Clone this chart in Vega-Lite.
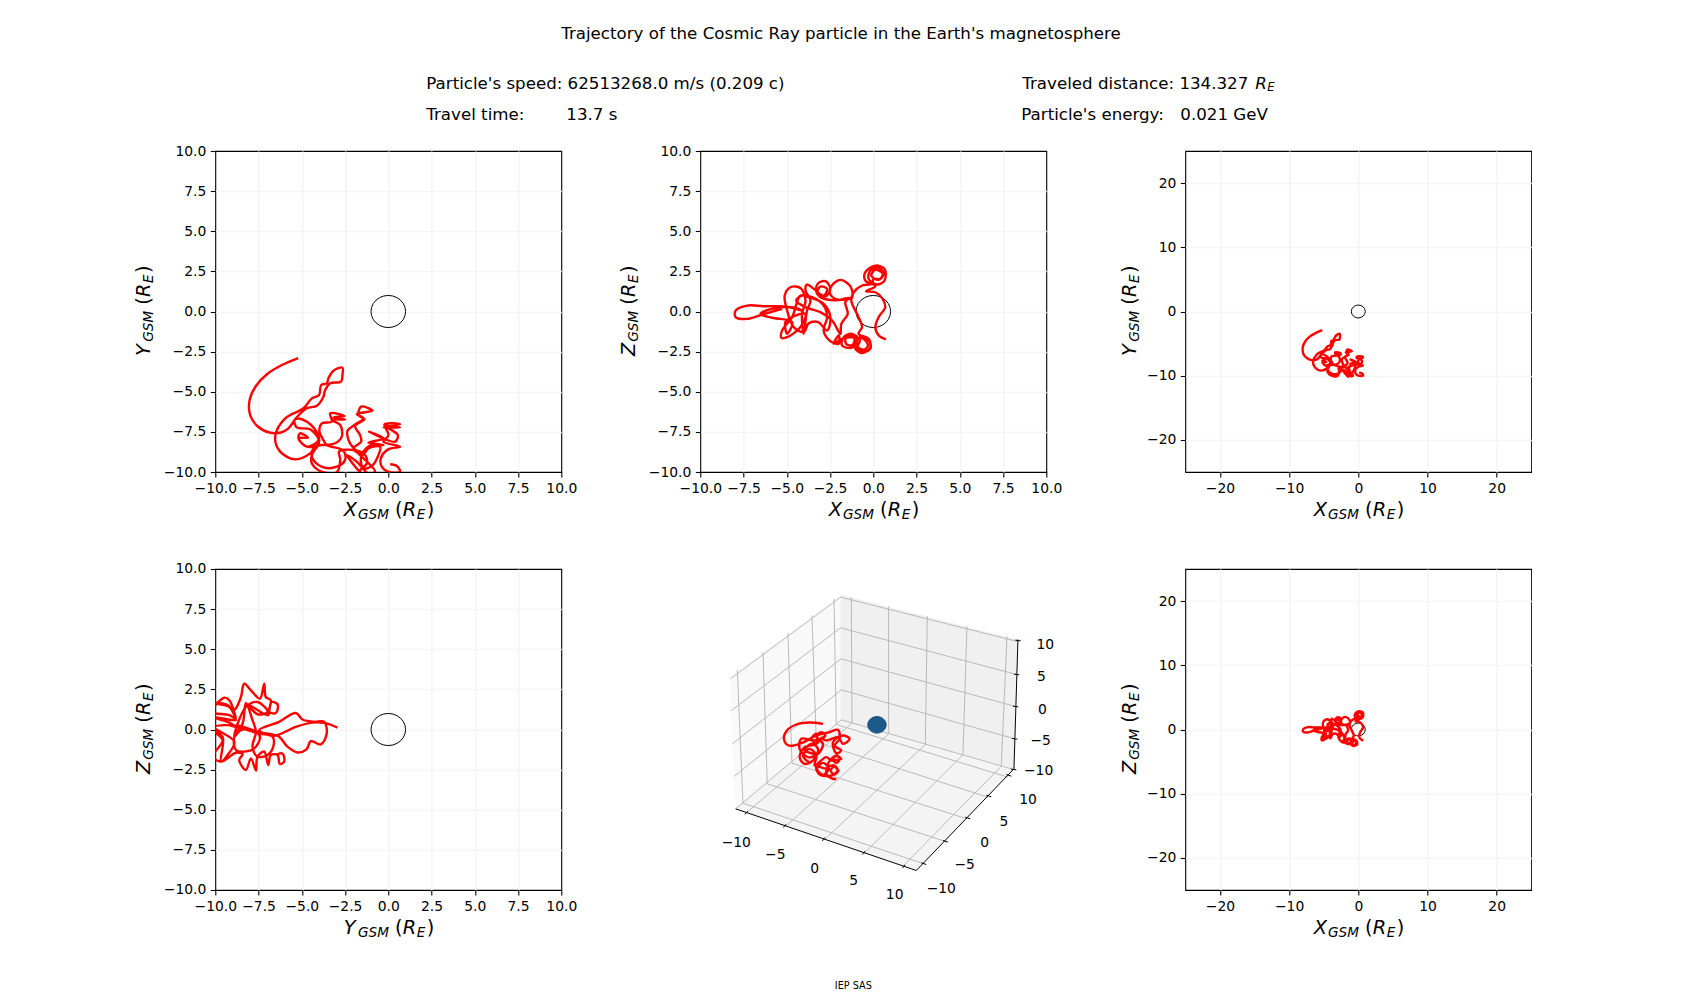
{"$schema":"https://vega.github.io/schema/vega-lite/v6.json","background":"#ffffff","padding":{"left":133.3,"top":26,"right":0,"bottom":0},"config":{"view":{"stroke":"#000000","strokeWidth":1.1},"text":{"font":"DejaVu Sans","align":"left","baseline":"alphabetic","color":"#000000"},"axis":{"grid":true,"gridColor":"#f5f5f5","gridWidth":1.5,"domain":false,"tickColor":"#000000","tickSize":5,"tickWidth":1.1,"labelFont":"DejaVu Sans","labelFontSize":13.9,"labelColor":"#000000","labelPadding":4.5,"labelOverlap":false,"labelFlush":false,"title":null}},
"datasets":{
"earth":[{"i":0,"a":1,"b":0},{"i":1,"a":0.966,"b":0.259},{"i":2,"a":0.866,"b":0.5},{"i":3,"a":0.707,"b":0.707},{"i":4,"a":0.5,"b":0.866},{"i":5,"a":0.259,"b":0.966},{"i":6,"a":0,"b":1},{"i":7,"a":-0.259,"b":0.966},{"i":8,"a":-0.5,"b":0.866},{"i":9,"a":-0.707,"b":0.707},{"i":10,"a":-0.866,"b":0.5},{"i":11,"a":-0.966,"b":0.259},{"i":12,"a":-1,"b":0},{"i":13,"a":-0.966,"b":-0.259},{"i":14,"a":-0.866,"b":-0.5},{"i":15,"a":-0.707,"b":-0.707},{"i":16,"a":-0.5,"b":-0.866},{"i":17,"a":-0.259,"b":-0.966},{"i":18,"a":0,"b":-1},{"i":19,"a":0.259,"b":-0.966},{"i":20,"a":0.5,"b":-0.866},{"i":21,"a":0.707,"b":-0.707},{"i":22,"a":0.866,"b":-0.5},{"i":23,"a":0.966,"b":-0.259},{"i":24,"a":1,"b":0}],
"xy":[{"i":0,"x":-5.21,"y":-2.9},{"i":1,"x":-6.12,"y":-3.32},{"i":2,"x":-6.98,"y":-3.88},{"i":3,"x":-7.65,"y":-4.64},{"i":4,"x":-8.02,"y":-5.53},{"i":5,"x":-7.98,"y":-6.47},{"i":6,"x":-7.56,"y":-7.15},{"i":7,"x":-6.88,"y":-7.54},{"i":8,"x":-6.21,"y":-7.54},{"i":9,"x":-5.77,"y":-7.28},{"i":10,"x":-5.29,"y":-6.59},{"i":11,"x":-4.71,"y":-6.03},{"i":12,"x":-4.13,"y":-5.87},{"i":13,"x":-3.75,"y":-5.31},{"i":14,"x":-3.65,"y":-4.89},{"i":15,"x":-3.36,"y":-4.47},{"i":16,"x":-2.73,"y":-4.37},{"i":17,"x":-2.65,"y":-3.95},{"i":18,"x":-2.65,"y":-3.5},{"i":19,"x":-3.17,"y":-3.69},{"i":20,"x":-3.46,"y":-4.16},{"i":21,"x":-3.55,"y":-4.47},{"i":22,"x":-3.88,"y":-4.58},{"i":23,"x":-4,"y":-5.2},{"i":24,"x":-4.42,"y":-5.41},{"i":25,"x":-4.9,"y":-6.03},{"i":26,"x":-5.96,"y":-6.66},{"i":27,"x":-6.54,"y":-7.8},{"i":28,"x":-6.25,"y":-8.73},{"i":29,"x":-5.39,"y":-9.21},{"i":30,"x":-4.52,"y":-8.84},{"i":31,"x":-4,"y":-8.11},{"i":32,"x":-4.33,"y":-7.22},{"i":33,"x":-5.1,"y":-6.68},{"i":34,"x":-5.42,"y":-6.76},{"i":35,"x":-5.29,"y":-7.22},{"i":36,"x":-4.52,"y":-7.34},{"i":37,"x":-4.04,"y":-8.01},{"i":38,"x":-4.71,"y":-8.42},{"i":39,"x":-5.19,"y":-7.9},{"i":40,"x":-5.1,"y":-7.59},{"i":41,"x":-4.65,"y":-7.86},{"i":42,"x":-5.19,"y":-7.9},{"i":43,"x":-4.71,"y":-8.42},{"i":44,"x":-3.84,"y":-8.32},{"i":45,"x":-3.07,"y":-8.21},{"i":46,"x":-2.69,"y":-7.8},{"i":47,"x":-2.78,"y":-7.07},{"i":48,"x":-3.27,"y":-6.76},{"i":49,"x":-2.5,"y":-6.72},{"i":50,"x":-3.17,"y":-6.59},{"i":51,"x":-2.53,"y":-6.51},{"i":52,"x":-3.36,"y":-6.35},{"i":53,"x":-3.27,"y":-6.86},{"i":54,"x":-3.84,"y":-6.97},{"i":55,"x":-3.98,"y":-7.49},{"i":56,"x":-3.75,"y":-8.01},{"i":57,"x":-3.55,"y":-8.32},{"i":58,"x":-2.59,"y":-8.67},{"i":59,"x":-2.5,"y":-9.25},{"i":60,"x":-2.98,"y":-9.67},{"i":61,"x":-3.75,"y":-9.71},{"i":62,"x":-4.33,"y":-9.25},{"i":63,"x":-4.42,"y":-8.73},{"i":64,"x":-4,"y":-8.26},{"i":65,"x":-4.42,"y":-8.94},{"i":66,"x":-4.42,"y":-9.46},{"i":67,"x":-3.94,"y":-9.94},{"i":68,"x":-2.98,"y":-10.02},{"i":69,"x":-2.78,"y":-9.25},{"i":70,"x":-2.84,"y":-8.73},{"i":71,"x":-2.01,"y":-8.63},{"i":72,"x":-1.34,"y":-8.94},{"i":73,"x":-1.24,"y":-9.46},{"i":74,"x":-1.63,"y":-9.92},{"i":75,"x":-1.49,"y":-10.19},{"i":76,"x":-2.4,"y":-8.94},{"i":77,"x":-1.82,"y":-9.36},{"i":78,"x":-1.15,"y":-10.08},{"i":79,"x":-0.76,"y":-9.98},{"i":80,"x":-1.82,"y":-8.73},{"i":81,"x":-2.26,"y":-8.11},{"i":82,"x":-2.36,"y":-7.43},{"i":83,"x":-1.96,"y":-7.07},{"i":84,"x":-1.44,"y":-6.66},{"i":85,"x":-1.82,"y":-6.39},{"i":86,"x":-0.92,"y":-6.18},{"i":87,"x":-1.57,"y":-5.93},{"i":88,"x":-1.72,"y":-6.45},{"i":89,"x":-1.38,"y":-6.72},{"i":90,"x":-1.92,"y":-7.13},{"i":91,"x":-1.63,"y":-7.7},{"i":92,"x":-1.57,"y":-8.11},{"i":93,"x":-2.01,"y":-8.53},{"i":94,"x":-1.49,"y":-8.94},{"i":95,"x":-1.15,"y":-8.53},{"i":96,"x":-0.47,"y":-8.42},{"i":97,"x":-0.61,"y":-9.05},{"i":98,"x":-0.95,"y":-9.63},{"i":99,"x":-1.44,"y":-9.77},{"i":100,"x":-1.57,"y":-9.05},{"i":101,"x":-1.11,"y":-8.38},{"i":102,"x":-0.28,"y":-8.32},{"i":103,"x":-1.15,"y":-8.17},{"i":104,"x":-0.28,"y":-7.9},{"i":105,"x":-1.11,"y":-7.49},{"i":106,"x":0.39,"y":-8.11},{"i":107,"x":0.55,"y":-7.7},{"i":108,"x":0.11,"y":-7.34},{"i":109,"x":-0.22,"y":-7.13},{"i":110,"x":0.68,"y":-7.22},{"i":111,"x":-0.28,"y":-7.22},{"i":112,"x":0.68,"y":-7.03},{"i":113,"x":-0.22,"y":-7.03},{"i":114,"x":0.01,"y":-7.7},{"i":115,"x":-0.28,"y":-8.11},{"i":116,"x":0.68,"y":-8.42},{"i":117,"x":-0.01,"y":-8.59},{"i":118,"x":-0.43,"y":-9.15},{"i":119,"x":-0.38,"y":-9.67},{"i":120,"x":-0.01,"y":-9.98},{"i":121,"x":0.68,"y":-9.98},{"i":122,"x":0.49,"y":-9.63},{"i":123,"x":0.11,"y":-9.52}],
"xz":[{"i":0,"x":0.73,"z":-1.74},{"i":1,"x":0.31,"z":-1.49},{"i":2,"x":0.12,"z":-0.97},{"i":3,"x":0.31,"z":-0.35},{"i":4,"x":0.69,"z":0.27},{"i":5,"x":0.54,"z":0.79},{"i":6,"x":0.12,"z":1.2},{"i":7,"x":-0.42,"z":1.26},{"i":8,"x":0.12,"z":1.58},{"i":9,"x":-0.46,"z":1.93},{"i":10,"x":-0.46,"z":2.45},{"i":11,"x":0.12,"z":2.86},{"i":12,"x":0.65,"z":2.65},{"i":13,"x":0.65,"z":1.93},{"i":14,"x":0.21,"z":1.68},{"i":15,"x":-0.27,"z":2.03},{"i":16,"x":-0.17,"z":2.55},{"i":17,"x":0.31,"z":2.72},{"i":18,"x":0.6,"z":2.34},{"i":19,"x":0.31,"z":1.97},{"i":20,"x":-0.12,"z":2.24},{"i":21,"x":0.12,"z":2.59},{"i":22,"x":0.54,"z":2.38},{"i":23,"x":0.4,"z":2.03},{"i":24,"x":0.02,"z":2.03},{"i":25,"x":-0.08,"z":1.72},{"i":26,"x":-0.65,"z":1.62},{"i":27,"x":-1.13,"z":1.2},{"i":28,"x":-1.27,"z":0.68},{"i":29,"x":-0.85,"z":-0.35},{"i":30,"x":-0.65,"z":-0.97},{"i":31,"x":-0.85,"z":-1.39},{"i":32,"x":-0.27,"z":-1.7},{"i":33,"x":-0.17,"z":-2.22},{"i":34,"x":-0.65,"z":-2.59},{"i":35,"x":-1.08,"z":-2.22},{"i":36,"x":-0.85,"z":-1.7},{"i":37,"x":-0.27,"z":-1.8},{"i":38,"x":-0.17,"z":-2.32},{"i":39,"x":-0.65,"z":-2.53},{"i":40,"x":-1.04,"z":-2.01},{"i":41,"x":-0.75,"z":-1.6},{"i":42,"x":-0.3,"z":-2.1},{"i":43,"x":-0.55,"z":-2.38},{"i":44,"x":-0.9,"z":-2.2},{"i":45,"x":-0.78,"z":-1.8},{"i":46,"x":-1.23,"z":-1.39},{"i":47,"x":-1.71,"z":-1.6},{"i":48,"x":-1.81,"z":-2.11},{"i":49,"x":-1.27,"z":-2.26},{"i":50,"x":-0.94,"z":-1.91},{"i":51,"x":-1.23,"z":-1.49},{"i":52,"x":-1.6,"z":-1.7},{"i":53,"x":-1.55,"z":-2.05},{"i":54,"x":-1.2,"z":-2.08},{"i":55,"x":-1.1,"z":-1.65},{"i":56,"x":-1.81,"z":-1.7},{"i":57,"x":-2.29,"z":-2.01},{"i":58,"x":-2,"z":-1.49},{"i":59,"x":-2,"z":-2.01},{"i":60,"x":-2.54,"z":-1.8},{"i":61,"x":-2.87,"z":-1.18},{"i":62,"x":-2.67,"z":-0.35},{"i":63,"x":-2.87,"z":0.37},{"i":64,"x":-3.54,"z":0.89},{"i":65,"x":-4.12,"z":0.99},{"i":66,"x":-4.46,"z":0.68},{"i":67,"x":-3.92,"z":0.27},{"i":68,"x":-3.06,"z":-0.04},{"i":69,"x":-2.38,"z":-0.56},{"i":70,"x":-1.9,"z":-1.39},{"i":71,"x":-1.85,"z":-0.77},{"i":72,"x":-1.48,"z":-0.15},{"i":73,"x":-1.62,"z":0.58},{"i":74,"x":-1.42,"z":0.85},{"i":75,"x":-2,"z":0.73},{"i":76,"x":-2.48,"z":1.06},{"i":77,"x":-2.42,"z":1.58},{"i":78,"x":-1.9,"z":1.97},{"i":79,"x":-1.33,"z":1.58},{"i":80,"x":-1.23,"z":0.89},{"i":81,"x":-1.81,"z":0.73},{"i":82,"x":-2.58,"z":0.73},{"i":83,"x":-3.06,"z":0.89},{"i":84,"x":-3.31,"z":1.31},{"i":85,"x":-3.19,"z":1.76},{"i":86,"x":-2.77,"z":1.89},{"i":87,"x":-2.48,"z":1.41},{"i":88,"x":-2.77,"z":0.93},{"i":89,"x":-3.25,"z":1.1},{"i":90,"x":-3.06,"z":1.55},{"i":91,"x":-2.67,"z":1.41},{"i":92,"x":-2.87,"z":0.99},{"i":93,"x":-3.44,"z":1.41},{"i":94,"x":-3.83,"z":1.68},{"i":95,"x":-3.92,"z":1.31},{"i":96,"x":-3.63,"z":0.68},{"i":97,"x":-3.83,"z":0.06},{"i":98,"x":-4.02,"z":-1.39},{"i":99,"x":-4.12,"z":-0.15},{"i":100,"x":-3.92,"z":0.68},{"i":101,"x":-4.21,"z":1.47},{"i":102,"x":-4.79,"z":1.51},{"i":103,"x":-5.12,"z":0.99},{"i":104,"x":-4.98,"z":0.06},{"i":105,"x":-4.6,"z":-0.97},{"i":106,"x":-4.02,"z":-1.28},{"i":107,"x":-3.73,"z":-0.73},{"i":108,"x":-3.19,"z":-0.66},{"i":109,"x":-2.67,"z":-1.18},{"i":110,"x":-2.48,"z":-0.35},{"i":111,"x":-2.87,"z":0.48},{"i":112,"x":-3.73,"z":0.89},{"i":113,"x":-4.21,"z":0.99},{"i":114,"x":-4.69,"z":-0.35},{"i":115,"x":-5.27,"z":-1.18},{"i":116,"x":-5.31,"z":-1.64},{"i":117,"x":-4.98,"z":-1.6},{"i":118,"x":-4.21,"z":-0.97},{"i":119,"x":-3.92,"z":-0.15},{"i":120,"x":-4.5,"z":-0.25},{"i":121,"x":-5.08,"z":-0.66},{"i":122,"x":-4.98,"z":-1.39},{"i":123,"x":-4.69,"z":-0.66},{"i":124,"x":-5.85,"z":-0.39},{"i":125,"x":-6.52,"z":-0.15},{"i":126,"x":-5.85,"z":0.17},{"i":127,"x":-4.69,"z":0.27},{"i":128,"x":-4.12,"z":0.06},{"i":129,"x":-5.08,"z":0.31},{"i":130,"x":-6.33,"z":0.33},{"i":131,"x":-7.29,"z":0.37},{"i":132,"x":-7.96,"z":0.06},{"i":133,"x":-7.96,"z":-0.35},{"i":134,"x":-7.29,"z":-0.46},{"i":135,"x":-6.42,"z":-0.19},{"i":136,"x":-5.27,"z":0.17}],
"yz":[{"i":0,"y":-2.94,"z":0.12},{"i":1,"y":-3.71,"z":0.41},{"i":2,"y":-4.38,"z":0.43},{"i":3,"y":-5.35,"z":0.17},{"i":4,"y":-6.6,"z":-0.39},{"i":5,"y":-7.46,"z":-0.04},{"i":6,"y":-6.31,"z":0.48},{"i":7,"y":-5.35,"z":1.03},{"i":8,"y":-4.96,"z":0.62},{"i":9,"y":-4.29,"z":0.48},{"i":10,"y":-3.71,"z":0.48},{"i":11,"y":-3.56,"z":-0.25},{"i":12,"y":-3.9,"z":-0.93},{"i":13,"y":-4.48,"z":-0.72},{"i":14,"y":-4.73,"z":-1.24},{"i":15,"y":-5.25,"z":-1.43},{"i":16,"y":-5.83,"z":-1.07},{"i":17,"y":-6.31,"z":-0.45},{"i":18,"y":-6.79,"z":-0.29},{"i":19,"y":-7.56,"z":-0.14},{"i":20,"y":-8.42,"z":0.17},{"i":21,"y":-9.23,"z":0.27},{"i":22,"y":-8.42,"z":0.06},{"i":23,"y":-7.46,"z":-0.25},{"i":24,"y":-6.69,"z":-0.45},{"i":25,"y":-6.65,"z":-1.07},{"i":26,"y":-6.98,"z":-1.59},{"i":27,"y":-7.56,"z":-1.69},{"i":28,"y":-7.85,"z":-1.07},{"i":29,"y":-7.65,"z":-0.14},{"i":30,"y":-7.85,"z":0.58},{"i":31,"y":-8.23,"z":1.65},{"i":32,"y":-8.42,"z":0.37},{"i":33,"y":-8.9,"z":-0.45},{"i":34,"y":-8.81,"z":-1.28},{"i":35,"y":-8.33,"z":-1.38},{"i":36,"y":-7.75,"z":-1.18},{"i":37,"y":-7.42,"z":-0.45},{"i":38,"y":-7.85,"z":-0.04},{"i":39,"y":-8.52,"z":-0.04},{"i":40,"y":-8.9,"z":-0.45},{"i":41,"y":-8.23,"z":1.4},{"i":42,"y":-7.56,"z":1.71},{"i":43,"y":-6.98,"z":1.1},{"i":44,"y":-7.56,"z":0.95},{"i":45,"y":-8.04,"z":1.51},{"i":46,"y":-6.94,"z":0.89},{"i":47,"y":-6.88,"z":1.2},{"i":48,"y":-6.75,"z":1.71},{"i":49,"y":-6.4,"z":1.57},{"i":50,"y":-6.5,"z":1.03},{"i":51,"y":-6.88,"z":1.1},{"i":52,"y":-6.79,"z":1.82},{"i":53,"y":-7.08,"z":2.02},{"i":54,"y":-7.17,"z":2.85},{"i":55,"y":-7.42,"z":1.92},{"i":56,"y":-7.85,"z":2.33},{"i":57,"y":-8.33,"z":2.85},{"i":58,"y":-8.52,"z":2.02},{"i":59,"y":-8.9,"z":1.24},{"i":60,"y":-9.38,"z":1.57},{"i":61,"y":-10.2,"z":1.65},{"i":62,"y":-9.19,"z":1.4},{"i":63,"y":-8.81,"z":0.68},{"i":64,"y":-9.19,"z":1.82},{"i":65,"y":-9.48,"z":1.98},{"i":66,"y":-10.2,"z":1.1},{"i":67,"y":-9.19,"z":0.89},{"i":68,"y":-8.81,"z":0.58},{"i":69,"y":-10.2,"z":0.79},{"i":70,"y":-9,"z":0.33},{"i":71,"y":-10.1,"z":0.17},{"i":72,"y":-8.9,"z":-0.76},{"i":73,"y":-9.29,"z":-1.59},{"i":74,"y":-9.67,"z":-2},{"i":75,"y":-9.58,"z":-0.45},{"i":76,"y":-10.2,"z":-0.04},{"i":77,"y":-9.58,"z":-0.66},{"i":78,"y":-10.15,"z":-1.69},{"i":79,"y":-9.67,"z":-2},{"i":80,"y":-8.81,"z":-1.45},{"i":81,"y":-8.42,"z":-1.53},{"i":82,"y":-8.62,"z":-1.9},{"i":83,"y":-8.23,"z":-2.52},{"i":84,"y":-7.94,"z":-1.8},{"i":85,"y":-7.65,"z":-2.56},{"i":86,"y":-7.56,"z":-1.69},{"i":87,"y":-7.17,"z":-1.38},{"i":88,"y":-6.94,"z":-2.21},{"i":89,"y":-6.79,"z":-1.59},{"i":90,"y":-6.4,"z":-1.59},{"i":91,"y":-6.27,"z":-2.15},{"i":92,"y":-6.02,"z":-2},{"i":93,"y":-6.12,"z":-1.49},{"i":94,"y":-6.5,"z":-1.59}],
"path3d":[{"i":0,"u":365,"v":460},{"i":1,"u":325,"v":456},{"i":2,"u":285,"v":462},{"i":3,"u":255,"v":482},{"i":4,"u":248,"v":505},{"i":5,"u":262,"v":525},{"i":6,"u":300,"v":518},{"i":7,"u":335,"v":500},{"i":8,"u":360,"v":485},{"i":9,"u":372,"v":495},{"i":10,"u":340,"v":510},{"i":11,"u":300,"v":505},{"i":12,"u":295,"v":535},{"i":13,"u":320,"v":560},{"i":14,"u":350,"v":550},{"i":15,"u":365,"v":520},{"i":16,"u":345,"v":498},{"i":17,"u":385,"v":485},{"i":18,"u":410,"v":478},{"i":19,"u":415,"v":505},{"i":20,"u":400,"v":525},{"i":21,"u":420,"v":540},{"i":22,"u":405,"v":548},{"i":23,"u":395,"v":515},{"i":24,"u":425,"v":495},{"i":25,"u":445,"v":505},{"i":26,"u":425,"v":520},{"i":27,"u":410,"v":500},{"i":28,"u":375,"v":510},{"i":29,"u":360,"v":505},{"i":30,"u":345,"v":520},{"i":31,"u":330,"v":505},{"i":32,"u":345,"v":490},{"i":33,"u":345,"v":520},{"i":34,"u":310,"v":530},{"i":35,"u":295,"v":560},{"i":36,"u":310,"v":580},{"i":37,"u":335,"v":570},{"i":38,"u":350,"v":535},{"i":39,"u":330,"v":520},{"i":40,"u":310,"v":540},{"i":41,"u":345,"v":555},{"i":42,"u":325,"v":575},{"i":43,"u":305,"v":555},{"i":44,"u":325,"v":535},{"i":45,"u":345,"v":555},{"i":46,"u":340,"v":585},{"i":47,"u":375,"v":560},{"i":48,"u":390,"v":570},{"i":49,"u":415,"v":567},{"i":50,"u":405,"v":577},{"i":51,"u":395,"v":567},{"i":52,"u":405,"v":557},{"i":53,"u":420,"v":565},{"i":54,"u":405,"v":555},{"i":55,"u":380,"v":580},{"i":56,"u":383,"v":595},{"i":57,"u":365,"v":613},{"i":58,"u":347,"v":595},{"i":59,"u":365,"v":577},{"i":60,"u":383,"v":595},{"i":61,"u":345,"v":590},{"i":62,"u":355,"v":612},{"i":63,"u":390,"v":615},{"i":64,"u":412,"v":600},{"i":65,"u":400,"v":612},{"i":66,"u":388,"v":600},{"i":67,"u":400,"v":588},{"i":68,"u":410,"v":600},{"i":69,"u":400,"v":585},{"i":70,"u":380,"v":590},{"i":71,"u":375,"v":610},{"i":72,"u":395,"v":625},{"i":73,"u":405,"v":625}],
"grid3d":[{"g":"x1","k":0,"u":135,"v":727},{"g":"x1","k":1,"u":452,"v":458},{"g":"x1","k":2,"u":450,"v":80},{"g":"x2","k":0,"u":250,"v":770},{"g":"x2","k":1,"u":562,"v":490},{"g":"x2","k":2,"u":562,"v":108},{"g":"x3","k":0,"u":367,"v":810},{"g":"x3","k":1,"u":672,"v":522},{"g":"x3","k":2,"u":678,"v":137},{"g":"x4","k":0,"u":487,"v":850},{"g":"x4","k":1,"u":785,"v":553},{"g":"x4","k":2,"u":797,"v":168},{"g":"x5","k":0,"u":607,"v":885},{"g":"x5","k":1,"u":900,"v":587},{"g":"x5","k":2,"u":917,"v":198},{"g":"y1","k":0,"u":665,"v":879},{"g":"y1","k":1,"u":125,"v":698},{"g":"y1","k":2,"u":108,"v":298},{"g":"y2","k":0,"u":730,"v":812},{"g":"y2","k":1,"u":198,"v":640},{"g":"y2","k":2,"u":185,"v":245},{"g":"y3","k":0,"u":797,"v":745},{"g":"y3","k":1,"u":272,"v":578},{"g":"y3","k":2,"u":260,"v":188},{"g":"y4","k":0,"u":860,"v":680},{"g":"y4","k":1,"u":345,"v":515},{"g":"y4","k":2,"u":332,"v":135},{"g":"y5","k":0,"u":920,"v":620},{"g":"y5","k":1,"u":405,"v":462},{"g":"y5","k":2,"u":398,"v":85},{"g":"z1","k":0,"u":87,"v":325},{"g":"z1","k":1,"u":418,"v":80},{"g":"z1","k":2,"u":948,"v":213},{"g":"z2","k":0,"u":90,"v":420},{"g":"z2","k":1,"u":418,"v":172},{"g":"z2","k":2,"u":946,"v":312},{"g":"z3","k":0,"u":93,"v":520},{"g":"z3","k":1,"u":419,"v":265},{"g":"z3","k":2,"u":943,"v":408},{"g":"z4","k":0,"u":98,"v":618},{"g":"z4","k":1,"u":420,"v":358},{"g":"z4","k":2,"u":940,"v":505},{"g":"z5","k":0,"u":103,"v":715},{"g":"z5","k":1,"u":420,"v":448},{"g":"z5","k":2,"u":937,"v":597}],
"axes3d":[{"g":"ax","u":103,"v":715},{"g":"ax","u":645,"v":900},{"g":"ax","u":938,"v":595},{"g":"ax","u":950,"v":207},{"g":"tx1","u":139,"v":722},{"g":"tx1","u":131,"v":732},{"g":"tx2","u":254,"v":761},{"g":"tx2","u":246,"v":771},{"g":"tx3","u":371,"v":801},{"g":"tx3","u":363,"v":811},{"g":"tx4","u":491,"v":842},{"g":"tx4","u":483,"v":852},{"g":"tx5","u":611,"v":883},{"g":"tx5","u":603,"v":893},{"g":"ty1","u":660,"v":877},{"g":"ty1","u":675,"v":882},{"g":"ty2","u":725,"v":810},{"g":"ty2","u":740,"v":815},{"g":"ty3","u":792,"v":740},{"g":"ty3","u":807,"v":745},{"g":"ty4","u":855,"v":674},{"g":"ty4","u":870,"v":679},{"g":"ty5","u":915,"v":612},{"g":"ty5","u":930,"v":617},{"g":"tz1","u":942,"v":209},{"g":"tz1","u":958,"v":211},{"g":"tz2","u":938,"v":311},{"g":"tz2","u":954,"v":313},{"g":"tz3","u":935,"v":407},{"g":"tz3","u":951,"v":409},{"g":"tz4","u":932,"v":504},{"g":"tz4","u":948,"v":506},{"g":"tz5","u":929,"v":596},{"g":"tz5","u":945,"v":598}],
"ticks3d":[{"t":"−10","u":105,"v":817},{"t":"−5","u":222,"v":855},{"t":"0","u":340,"v":895},{"t":"5","u":457,"v":932},{"t":"10","u":580,"v":975},{"t":"−10","u":720,"v":955},{"t":"−5","u":790,"v":883},{"t":"0","u":850,"v":817},{"t":"5","u":908,"v":755},{"t":"10","u":980,"v":690},{"t":"10","u":1032,"v":223},{"t":"5","u":1020,"v":320},{"t":"0","u":1023,"v":418},{"t":"−5","u":1018,"v":512},{"t":"−10","u":1012,"v":603}],
"figtext":[{"t":"Particle's speed: 62513268.0 m/s (0.209 c)","u":-825,"v":-1459.5},{"t":"Travel time:","u":-825,"v":-1368},{"t":"13.7 s","u":-405,"v":-1368},{"t":"Traveled distance: 134.327","u":963,"v":-1459.5},{"t":"Particle's energy:","u":960,"v":-1368},{"t":"0.021 GeV","u":1437,"v":-1368}]
},
"columns":3,"bounds":"flush","spacing":{"row":97,"column":139},
"concat":[
{"width":346,"height":321,"data":{"values":[{}]},"layer":[
{"data":{"name":"earth"},"mark":{"type":"line","color":"#000000","strokeWidth":1},"encoding":{"x":{"field":"a","type":"quantitative","scale":{"domain":[-10,10],"nice":false},"axis":{"values":[-10,-7.5,-5,-2.5,0,2.5,5,7.5,10],"format":".1f","gridOpacity":{"condition":{"test":"abs(datum.value)==10","value":0},"value":1}}},"y":{"field":"b","type":"quantitative","scale":{"domain":[-10,10],"nice":false},"axis":{"values":[-10,-7.5,-5,-2.5,0,2.5,5,7.5,10],"format":".1f","gridOpacity":{"condition":{"test":"abs(datum.value)==10","value":0},"value":1}}},"order":{"field":"i"}}},
{"data":{"name":"xy"},"mark":{"type":"line","color":"#ff0000","strokeWidth":2.4,"clip":true,"interpolate":"catmull-rom"},"encoding":{"x":{"field":"x","type":"quantitative"},"y":{"field":"y","type":"quantitative"},"order":{"field":"i"}}},
{"mark":{"type":"text","text":"X","fontStyle":"italic","fontSize":19.4,"dx":-44.5,"dy":44.5},"encoding":{"x":{"datum":0},"y":{"datum":-10}}},
{"mark":{"type":"text","text":"GSM","fontStyle":"italic","fontSize":13.6,"dx":-30.2,"dy":47.5},"encoding":{"x":{"datum":0},"y":{"datum":-10}}},
{"mark":{"type":"text","text":"(","fontSize":19.4,"dx":6.8,"dy":44.5},"encoding":{"x":{"datum":0},"y":{"datum":-10}}},
{"mark":{"type":"text","text":"R","fontStyle":"italic","fontSize":19.4,"dx":14.5,"dy":44.5},"encoding":{"x":{"datum":0},"y":{"datum":-10}}},
{"mark":{"type":"text","text":"E","fontStyle":"italic","fontSize":13.6,"dx":28.5,"dy":47.5},"encoding":{"x":{"datum":0},"y":{"datum":-10}}},
{"mark":{"type":"text","text":")","fontSize":19.4,"dx":38.5,"dy":44.5},"encoding":{"x":{"datum":0},"y":{"datum":-10}}},
{"mark":{"type":"text","angle":270,"text":"Y","fontStyle":"italic","fontSize":19.4,"dx":-44.5,"dy":-65},"encoding":{"x":{"datum":-10},"y":{"datum":0}}},
{"mark":{"type":"text","angle":270,"text":"GSM","fontStyle":"italic","fontSize":13.6,"dx":-30.2,"dy":-62},"encoding":{"x":{"datum":-10},"y":{"datum":0}}},
{"mark":{"type":"text","angle":270,"text":"(","fontSize":19.4,"dx":6.8,"dy":-65},"encoding":{"x":{"datum":-10},"y":{"datum":0}}},
{"mark":{"type":"text","angle":270,"text":"R","fontStyle":"italic","fontSize":19.4,"dx":14.5,"dy":-65},"encoding":{"x":{"datum":-10},"y":{"datum":0}}},
{"mark":{"type":"text","angle":270,"text":"E","fontStyle":"italic","fontSize":13.6,"dx":28.5,"dy":-62},"encoding":{"x":{"datum":-10},"y":{"datum":0}}},
{"mark":{"type":"text","angle":270,"text":")","fontSize":19.4,"dx":38.5,"dy":-65},"encoding":{"x":{"datum":-10},"y":{"datum":0}}}
]},
{"width":346,"height":321,"data":{"values":[{}]},"layer":[
{"data":{"name":"earth"},"mark":{"type":"line","color":"#000000","strokeWidth":1},"encoding":{"x":{"field":"a","type":"quantitative","scale":{"domain":[-10,10],"nice":false},"axis":{"values":[-10,-7.5,-5,-2.5,0,2.5,5,7.5,10],"format":".1f","gridOpacity":{"condition":{"test":"abs(datum.value)==10","value":0},"value":1}}},"y":{"field":"b","type":"quantitative","scale":{"domain":[-10,10],"nice":false},"axis":{"values":[-10,-7.5,-5,-2.5,0,2.5,5,7.5,10],"format":".1f","gridOpacity":{"condition":{"test":"abs(datum.value)==10","value":0},"value":1}}},"order":{"field":"i"}}},
{"data":{"name":"xz"},"mark":{"type":"line","color":"#ff0000","strokeWidth":2.4,"clip":true,"interpolate":"catmull-rom"},"encoding":{"x":{"field":"x","type":"quantitative"},"y":{"field":"z","type":"quantitative"},"order":{"field":"i"}}},
{"mark":{"type":"text","text":"X","fontStyle":"italic","fontSize":19.4,"dx":-44.5,"dy":44.5},"encoding":{"x":{"datum":0},"y":{"datum":-10}}},
{"mark":{"type":"text","text":"GSM","fontStyle":"italic","fontSize":13.6,"dx":-30.2,"dy":47.5},"encoding":{"x":{"datum":0},"y":{"datum":-10}}},
{"mark":{"type":"text","text":"(","fontSize":19.4,"dx":6.8,"dy":44.5},"encoding":{"x":{"datum":0},"y":{"datum":-10}}},
{"mark":{"type":"text","text":"R","fontStyle":"italic","fontSize":19.4,"dx":14.5,"dy":44.5},"encoding":{"x":{"datum":0},"y":{"datum":-10}}},
{"mark":{"type":"text","text":"E","fontStyle":"italic","fontSize":13.6,"dx":28.5,"dy":47.5},"encoding":{"x":{"datum":0},"y":{"datum":-10}}},
{"mark":{"type":"text","text":")","fontSize":19.4,"dx":38.5,"dy":44.5},"encoding":{"x":{"datum":0},"y":{"datum":-10}}},
{"mark":{"type":"text","angle":270,"text":"Z","fontStyle":"italic","fontSize":19.4,"dx":-44.5,"dy":-65},"encoding":{"x":{"datum":-10},"y":{"datum":0}}},
{"mark":{"type":"text","angle":270,"text":"GSM","fontStyle":"italic","fontSize":13.6,"dx":-30.2,"dy":-62},"encoding":{"x":{"datum":-10},"y":{"datum":0}}},
{"mark":{"type":"text","angle":270,"text":"(","fontSize":19.4,"dx":6.8,"dy":-65},"encoding":{"x":{"datum":-10},"y":{"datum":0}}},
{"mark":{"type":"text","angle":270,"text":"R","fontStyle":"italic","fontSize":19.4,"dx":14.5,"dy":-65},"encoding":{"x":{"datum":-10},"y":{"datum":0}}},
{"mark":{"type":"text","angle":270,"text":"E","fontStyle":"italic","fontSize":13.6,"dx":28.5,"dy":-62},"encoding":{"x":{"datum":-10},"y":{"datum":0}}},
{"mark":{"type":"text","angle":270,"text":")","fontSize":19.4,"dx":38.5,"dy":-65},"encoding":{"x":{"datum":-10},"y":{"datum":0}}}
]},
{"width":346,"height":321,"data":{"values":[{}]},"layer":[
{"data":{"name":"earth"},"mark":{"type":"line","color":"#000000","strokeWidth":1},"encoding":{"x":{"field":"a","type":"quantitative","scale":{"domain":[-25,25],"nice":false},"axis":{"values":[-20,-10,0,10,20],"format":"d"}},"y":{"field":"b","type":"quantitative","scale":{"domain":[-25,25],"nice":false},"axis":{"values":[-20,-10,0,10,20],"format":"d"}},"order":{"field":"i"}}},
{"data":{"name":"xy"},"mark":{"type":"line","color":"#ff0000","strokeWidth":2.4,"clip":true,"interpolate":"catmull-rom"},"encoding":{"x":{"field":"x","type":"quantitative"},"y":{"field":"y","type":"quantitative"},"order":{"field":"i"}}},
{"mark":{"type":"text","text":"X","fontStyle":"italic","fontSize":19.4,"dx":-44.5,"dy":44.5},"encoding":{"x":{"datum":0},"y":{"datum":-25}}},
{"mark":{"type":"text","text":"GSM","fontStyle":"italic","fontSize":13.6,"dx":-30.2,"dy":47.5},"encoding":{"x":{"datum":0},"y":{"datum":-25}}},
{"mark":{"type":"text","text":"(","fontSize":19.4,"dx":6.8,"dy":44.5},"encoding":{"x":{"datum":0},"y":{"datum":-25}}},
{"mark":{"type":"text","text":"R","fontStyle":"italic","fontSize":19.4,"dx":14.5,"dy":44.5},"encoding":{"x":{"datum":0},"y":{"datum":-25}}},
{"mark":{"type":"text","text":"E","fontStyle":"italic","fontSize":13.6,"dx":28.5,"dy":47.5},"encoding":{"x":{"datum":0},"y":{"datum":-25}}},
{"mark":{"type":"text","text":")","fontSize":19.4,"dx":38.5,"dy":44.5},"encoding":{"x":{"datum":0},"y":{"datum":-25}}},
{"mark":{"type":"text","angle":270,"text":"Y","fontStyle":"italic","fontSize":19.4,"dx":-44.5,"dy":-49},"encoding":{"x":{"datum":-25},"y":{"datum":0}}},
{"mark":{"type":"text","angle":270,"text":"GSM","fontStyle":"italic","fontSize":13.6,"dx":-30.2,"dy":-46},"encoding":{"x":{"datum":-25},"y":{"datum":0}}},
{"mark":{"type":"text","angle":270,"text":"(","fontSize":19.4,"dx":6.8,"dy":-49},"encoding":{"x":{"datum":-25},"y":{"datum":0}}},
{"mark":{"type":"text","angle":270,"text":"R","fontStyle":"italic","fontSize":19.4,"dx":14.5,"dy":-49},"encoding":{"x":{"datum":-25},"y":{"datum":0}}},
{"mark":{"type":"text","angle":270,"text":"E","fontStyle":"italic","fontSize":13.6,"dx":28.5,"dy":-46},"encoding":{"x":{"datum":-25},"y":{"datum":0}}},
{"mark":{"type":"text","angle":270,"text":")","fontSize":19.4,"dx":38.5,"dy":-49},"encoding":{"x":{"datum":-25},"y":{"datum":0}}}
]},
{"width":346,"height":321,"data":{"values":[{}]},"layer":[
{"data":{"name":"earth"},"mark":{"type":"line","color":"#000000","strokeWidth":1},"encoding":{"x":{"field":"a","type":"quantitative","scale":{"domain":[-10,10],"nice":false},"axis":{"values":[-10,-7.5,-5,-2.5,0,2.5,5,7.5,10],"format":".1f","gridOpacity":{"condition":{"test":"abs(datum.value)==10","value":0},"value":1}}},"y":{"field":"b","type":"quantitative","scale":{"domain":[-10,10],"nice":false},"axis":{"values":[-10,-7.5,-5,-2.5,0,2.5,5,7.5,10],"format":".1f","gridOpacity":{"condition":{"test":"abs(datum.value)==10","value":0},"value":1}}},"order":{"field":"i"}}},
{"data":{"name":"yz"},"mark":{"type":"line","color":"#ff0000","strokeWidth":2.4,"clip":true,"interpolate":"catmull-rom"},"encoding":{"x":{"field":"y","type":"quantitative"},"y":{"field":"z","type":"quantitative"},"order":{"field":"i"}}},
{"mark":{"type":"text","text":"Y","fontStyle":"italic","fontSize":19.4,"dx":-44.5,"dy":44.5},"encoding":{"x":{"datum":0},"y":{"datum":-10}}},
{"mark":{"type":"text","text":"GSM","fontStyle":"italic","fontSize":13.6,"dx":-30.2,"dy":47.5},"encoding":{"x":{"datum":0},"y":{"datum":-10}}},
{"mark":{"type":"text","text":"(","fontSize":19.4,"dx":6.8,"dy":44.5},"encoding":{"x":{"datum":0},"y":{"datum":-10}}},
{"mark":{"type":"text","text":"R","fontStyle":"italic","fontSize":19.4,"dx":14.5,"dy":44.5},"encoding":{"x":{"datum":0},"y":{"datum":-10}}},
{"mark":{"type":"text","text":"E","fontStyle":"italic","fontSize":13.6,"dx":28.5,"dy":47.5},"encoding":{"x":{"datum":0},"y":{"datum":-10}}},
{"mark":{"type":"text","text":")","fontSize":19.4,"dx":38.5,"dy":44.5},"encoding":{"x":{"datum":0},"y":{"datum":-10}}},
{"mark":{"type":"text","angle":270,"text":"Z","fontStyle":"italic","fontSize":19.4,"dx":-44.5,"dy":-65},"encoding":{"x":{"datum":-10},"y":{"datum":0}}},
{"mark":{"type":"text","angle":270,"text":"GSM","fontStyle":"italic","fontSize":13.6,"dx":-30.2,"dy":-62},"encoding":{"x":{"datum":-10},"y":{"datum":0}}},
{"mark":{"type":"text","angle":270,"text":"(","fontSize":19.4,"dx":6.8,"dy":-65},"encoding":{"x":{"datum":-10},"y":{"datum":0}}},
{"mark":{"type":"text","angle":270,"text":"R","fontStyle":"italic","fontSize":19.4,"dx":14.5,"dy":-65},"encoding":{"x":{"datum":-10},"y":{"datum":0}}},
{"mark":{"type":"text","angle":270,"text":"E","fontStyle":"italic","fontSize":13.6,"dx":28.5,"dy":-62},"encoding":{"x":{"datum":-10},"y":{"datum":0}}},
{"mark":{"type":"text","angle":270,"text":")","fontSize":19.4,"dx":38.5,"dy":-65},"encoding":{"x":{"datum":-10},"y":{"datum":0}}}
]},
{"width":346,"height":321,"view":{"stroke":null},"layer":[
{"data":{"values":[{"u":85,"v":320,"w":320},{"u":103,"v":306.6,"w":715},{"u":418,"v":72,"w":450},{"u":420,"v":72,"w":448}]},"mark":{"type":"area","color":"#f9f9f9"},"encoding":{"x":{"field":"u","type":"quantitative","scale":{"domain":[-3,1035],"nice":false,"zero":false},"axis":null},"y":{"field":"v","type":"quantitative","scale":{"domain":[958.5,-4.5],"nice":false,"zero":false},"axis":null},"y2":{"field":"w"}}},
{"data":{"values":[{"u":103,"v":715,"w":715},{"u":420,"v":448,"w":823},{"u":645,"v":512,"w":900},{"u":938,"v":595,"w":595}]},"mark":{"type":"area","color":"#f4f4f4"},"encoding":{"x":{"field":"u","type":"quantitative"},"y":{"field":"v","type":"quantitative"},"y2":{"field":"w"}}},
{"data":{"values":[{"u":418,"v":72,"w":448},{"u":938,"v":204,"w":595},{"u":950,"v":207,"w":207}]},"mark":{"type":"area","color":"#f0f0f0"},"encoding":{"x":{"field":"u","type":"quantitative"},"y":{"field":"v","type":"quantitative"},"y2":{"field":"w"}}},
{"data":{"name":"grid3d"},"mark":{"type":"line","color":"#b9b9b9","strokeWidth":1},"encoding":{"x":{"field":"u","type":"quantitative"},"y":{"field":"v","type":"quantitative"},"detail":{"field":"g"},"order":{"field":"k"}}},
{"data":{"name":"axes3d"},"mark":{"type":"line","color":"#000000","strokeWidth":1},"encoding":{"x":{"field":"u","type":"quantitative"},"y":{"field":"v","type":"quantitative"},"detail":{"field":"g"},"order":{"field":"u"}}},
{"data":{"values":[{"u":527,"v":463}]},"mark":{"type":"point","filled":true,"shape":"M-1,0A1,.9,0,1,1,1,0A1,.9,0,1,1,-1,0Z","size":336,"fill":"#1c5a8a","stroke":"#144a75","strokeWidth":1,"opacity":1},"encoding":{"x":{"field":"u","type":"quantitative"},"y":{"field":"v","type":"quantitative"}}},
{"data":{"name":"path3d"},"mark":{"type":"line","color":"#ff0000","strokeWidth":2.4,"interpolate":"catmull-rom"},"encoding":{"x":{"field":"u","type":"quantitative"},"y":{"field":"v","type":"quantitative"},"order":{"field":"i"}}},
{"data":{"name":"ticks3d"},"mark":{"type":"text","fontSize":13.9,"align":"center","baseline":"middle"},"encoding":{"x":{"field":"u","type":"quantitative"},"y":{"field":"v","type":"quantitative"},"text":{"field":"t"}}},
{"data":{"name":"figtext"},"mark":{"type":"text","fontSize":16.67,"baseline":"middle"},"encoding":{"x":{"field":"u","type":"quantitative"},"y":{"field":"v","type":"quantitative"},"text":{"field":"t"}}},
{"data":{"values":[{"t":"Trajectory of the Cosmic Ray particle in the Earth's magnetosphere","u":419,"v":-1609}]},"mark":{"type":"text","fontSize":16.67,"align":"center","baseline":"middle"},"encoding":{"x":{"field":"u","type":"quantitative"},"y":{"field":"v","type":"quantitative"},"text":{"field":"t"}}},
{"data":{"values":[{"t":"R","u":1662,"v":-1459.5}]},"mark":{"type":"text","fontSize":16.67,"fontStyle":"italic","baseline":"middle"},"encoding":{"x":{"field":"u","type":"quantitative"},"y":{"field":"v","type":"quantitative"},"text":{"field":"t"}}},
{"data":{"values":[{"t":"E","u":1698,"v":-1450}]},"mark":{"type":"text","fontSize":11.7,"fontStyle":"italic","baseline":"middle"},"encoding":{"x":{"field":"u","type":"quantitative"},"y":{"field":"v","type":"quantitative"},"text":{"field":"t"}}},
{"data":{"values":[{"t":"IEP SAS","u":456,"v":1248}]},"mark":{"type":"text","fontSize":9.7,"align":"center","baseline":"middle"},"encoding":{"x":{"field":"u","type":"quantitative"},"y":{"field":"v","type":"quantitative"},"text":{"field":"t"}}}
]},
{"width":346,"height":321,"data":{"values":[{}]},"layer":[
{"data":{"name":"earth"},"mark":{"type":"line","color":"#000000","strokeWidth":1},"encoding":{"x":{"field":"a","type":"quantitative","scale":{"domain":[-25,25],"nice":false},"axis":{"values":[-20,-10,0,10,20],"format":"d"}},"y":{"field":"b","type":"quantitative","scale":{"domain":[-25,25],"nice":false},"axis":{"values":[-20,-10,0,10,20],"format":"d"}},"order":{"field":"i"}}},
{"data":{"name":"xz"},"mark":{"type":"line","color":"#ff0000","strokeWidth":2.4,"clip":true,"interpolate":"catmull-rom"},"encoding":{"x":{"field":"x","type":"quantitative"},"y":{"field":"z","type":"quantitative"},"order":{"field":"i"}}},
{"mark":{"type":"text","text":"X","fontStyle":"italic","fontSize":19.4,"dx":-44.5,"dy":44.5},"encoding":{"x":{"datum":0},"y":{"datum":-25}}},
{"mark":{"type":"text","text":"GSM","fontStyle":"italic","fontSize":13.6,"dx":-30.2,"dy":47.5},"encoding":{"x":{"datum":0},"y":{"datum":-25}}},
{"mark":{"type":"text","text":"(","fontSize":19.4,"dx":6.8,"dy":44.5},"encoding":{"x":{"datum":0},"y":{"datum":-25}}},
{"mark":{"type":"text","text":"R","fontStyle":"italic","fontSize":19.4,"dx":14.5,"dy":44.5},"encoding":{"x":{"datum":0},"y":{"datum":-25}}},
{"mark":{"type":"text","text":"E","fontStyle":"italic","fontSize":13.6,"dx":28.5,"dy":47.5},"encoding":{"x":{"datum":0},"y":{"datum":-25}}},
{"mark":{"type":"text","text":")","fontSize":19.4,"dx":38.5,"dy":44.5},"encoding":{"x":{"datum":0},"y":{"datum":-25}}},
{"mark":{"type":"text","angle":270,"text":"Z","fontStyle":"italic","fontSize":19.4,"dx":-44.5,"dy":-49},"encoding":{"x":{"datum":-25},"y":{"datum":0}}},
{"mark":{"type":"text","angle":270,"text":"GSM","fontStyle":"italic","fontSize":13.6,"dx":-30.2,"dy":-46},"encoding":{"x":{"datum":-25},"y":{"datum":0}}},
{"mark":{"type":"text","angle":270,"text":"(","fontSize":19.4,"dx":6.8,"dy":-49},"encoding":{"x":{"datum":-25},"y":{"datum":0}}},
{"mark":{"type":"text","angle":270,"text":"R","fontStyle":"italic","fontSize":19.4,"dx":14.5,"dy":-49},"encoding":{"x":{"datum":-25},"y":{"datum":0}}},
{"mark":{"type":"text","angle":270,"text":"E","fontStyle":"italic","fontSize":13.6,"dx":28.5,"dy":-46},"encoding":{"x":{"datum":-25},"y":{"datum":0}}},
{"mark":{"type":"text","angle":270,"text":")","fontSize":19.4,"dx":38.5,"dy":-49},"encoding":{"x":{"datum":-25},"y":{"datum":0}}}
]}
]}
